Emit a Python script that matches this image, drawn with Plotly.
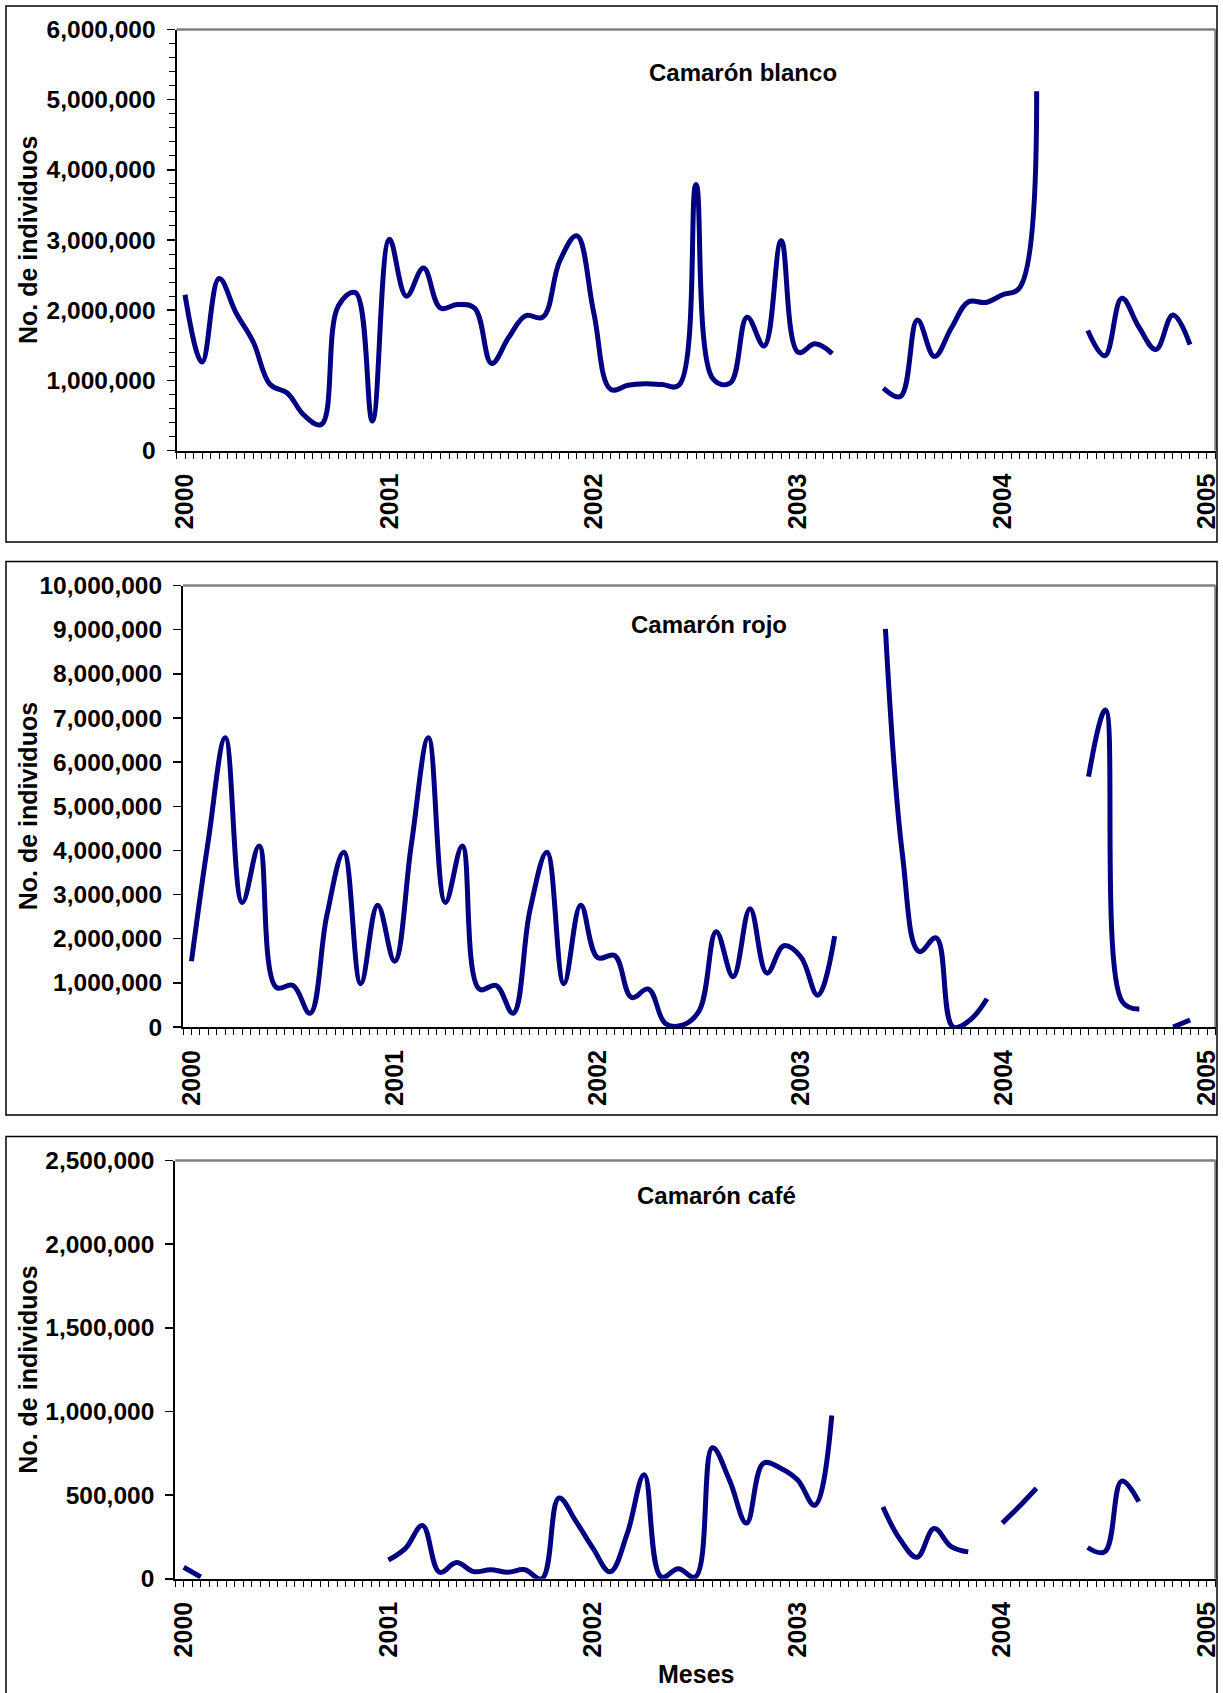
import plotly.graph_objects as go

W, H = 1223, 1693

# Month index 0 = Jan 2000 ... 59 = Dec 2004 (60 = Jan 2005)
year_ticks = [0, 12, 24, 36, 48, 60]
year_labels = ["2000", "2001", "2002", "2003", "2004", "2005"]

blanco = [2220000, 1260000, 2450000, 1960000, 1550000, 940000, 820000, 500000, 370000, 2060000, 2250000, 420000,
          3010000, 2200000, 2600000, 2030000, 2080000, 2030000, 1240000, 1610000, 1920000, 1900000, 2700000, 3060000,
          1960000, 870000, 930000, 950000, 940000, 930000, 3790000, 1020000, 960000, 1900000, 1490000, 2990000,
          1400000, 1520000, 1380000, None, None, 890000, 770000, 1860000, 1340000, 1750000, 2120000, 2110000,
          2220000, 2320000, 5120000, None, None, 1710000, 1350000, 2170000, 1760000, 1440000, 1930000, 1510000]

rojo = [1490000, 4240000, 6550000, 2820000, 4100000, 900000, 940000, 310000, 2530000, 3960000, 980000, 2760000,
        1490000, 4160000, 6550000, 2820000, 4100000, 860000, 940000, 310000, 2650000, 3960000, 980000, 2760000,
        1570000, 1620000, 670000, 860000, 80000, 40000, 370000, 2160000, 1140000, 2680000, 1220000, 1840000,
        1590000, 720000, 2060000, None, None, 9020000, 3920000, 1710000, 2020000, 0, 160000, 640000,
        None, None, None, None, None, 5670000, 7180000, 570000, 410000, None, 0, 160000]

cafe = [69000, 11000, None, None, None, None, None, None, None, None, None, None,
        112000, 182000, 318000, 39000, 97000, 43000, 54000, 39000, 54000, 0, 483000, 343000,
        182000, 42000, 268000, 622000, 11000, 60000, 11000, 783000, 590000, 333000, 691000, 661000,
        590000, 440000, 976000, None, None, 429000, 236000, 129000, 300000, 193000, 161000, None,
        333000, 433000, 541000, None, None, 187000, 161000, 584000, 461000, None, None, None]

months = list(range(60))

FONT = "Liberation Sans, Arial, sans-serif"
LINE_COLOR = "#000080"

panels = [
    dict(name="Camarón blanco", data=blanco, left=176.5, right=1215.5, top=29.5, bottom=450.5,
         ftop=6, fbot=542, ymax=6000000, dtick=1000000, minor=200000, title_xy=(743, 73)),
    dict(name="Camarón rojo", data=rojo, left=183.0, right=1215.5, top=585.5, bottom=1027,
         ftop=561.5, fbot=1115, ymax=10000000, dtick=1000000, minor=None, title_xy=(709, 624)),
    dict(name="Camarón café", data=cafe, left=175.2, right=1215.5, top=1160.5, bottom=1578.8,
         ftop=1136.5, fbot=1720, ymax=2500000, dtick=500000, minor=None, title_xy=(717, 1195)),
]

fig = go.Figure()
shapes = []
annotations = []

for i, p in enumerate(panels):
    n = i + 1
    xa = "x" if n == 1 else f"x{n}"
    ya = "y" if n == 1 else f"y{n}"
    fig.add_trace(go.Scatter(
        x=months, y=p["data"], mode="lines", xaxis=xa, yaxis=ya,
        line=dict(color=LINE_COLOR, width=5, shape="spline", smoothing=1.1),
        connectgaps=False, showlegend=False, hoverinfo="skip"))

    xdom = [p["left"] / W, p["right"] / W]
    ydom = [1 - p["bottom"] / H, 1 - p["top"] / H]
    xkey = "xaxis" if n == 1 else f"xaxis{n}"
    ykey = "yaxis" if n == 1 else f"yaxis{n}"

    xaxis = dict(
        domain=xdom, anchor=ya, range=[-0.5, 60.5], fixedrange=True,
        tickmode="array", tickvals=year_ticks, ticktext=year_labels,
        tickangle=-90, ticks="outside", ticklen=6, tickwidth=1, tickcolor="black",
        tickfont=dict(family=FONT, size=25, color="black", weight="bold"),
        ticklabelstandoff=5,
        minor=dict(tickmode="linear", tick0=-0.5, dtick=0.5, ticks="outside",
                   ticklen=6, tickwidth=1, tickcolor="black", showgrid=False),
        showline=True, linecolor="black", linewidth=2,
        showgrid=False, zeroline=False, automargin=False,
    )
    yaxis = dict(
        domain=ydom, anchor=xa, range=[0, p["ymax"]], fixedrange=True,
        tickmode="linear", tick0=0, dtick=p["dtick"], tickformat=",d",
        ticks="outside", ticklen=8, tickwidth=1.5, tickcolor="black",
        tickfont=dict(family=FONT, size=24.5, color="black", weight="bold"),
        ticklabelstandoff=6,
        showline=True, linecolor="black", linewidth=2,
        showgrid=False, zeroline=False, automargin=False,
    )
    if p["minor"]:
        yaxis["minor"] = dict(tickmode="linear", tick0=0, dtick=p["minor"], ticks="outside",
                              ticklen=6, tickwidth=1, tickcolor="black", showgrid=False)
    fig.update_layout({xkey: xaxis, ykey: yaxis})

    # gray plot-area border (top and right)
    shapes.append(dict(type="line", xref=f"{xa} domain", yref=f"{ya} domain",
                       x0=0, x1=1, y0=1, y1=1, line=dict(color="#808080", width=2.5)))
    shapes.append(dict(type="line", xref=f"{xa} domain", yref=f"{ya} domain",
                       x0=1, x1=1, y0=0, y1=1, line=dict(color="#808080", width=2.5)))
    # outer chart frame
    shapes.append(dict(type="rect", xref="paper", yref="paper",
                       x0=6 / W, x1=1217 / W, y0=1 - p["fbot"] / H, y1=1 - p["ftop"] / H,
                       line=dict(color="black", width=1.5), fillcolor="rgba(0,0,0,0)"))

    tx, ty = p["title_xy"]
    annotations.append(dict(text=p["name"], x=tx / W, y=1 - ty / H, xref="paper", yref="paper",
                            xanchor="center", yanchor="middle", showarrow=False,
                            font=dict(family=FONT, size=24, color="black", weight="bold")))
    annotations.append(dict(text="No. de individuos", x=28 / W, y=1 - ((p["top"] + p["bottom"]) / 2) / H,
                            xref="paper", yref="paper", xanchor="center", yanchor="middle",
                            textangle=-90, showarrow=False,
                            font=dict(family=FONT, size=25, color="black", weight="bold")))

annotations.append(dict(text="Meses", x=696 / W, y=1 - 1674 / H, xref="paper", yref="paper",
                        xanchor="center", yanchor="middle", showarrow=False,
                        font=dict(family=FONT, size=25, color="black", weight="bold")))

fig.update_layout(
    template="none",
    width=W, height=H, autosize=False,
    margin=dict(l=0, r=0, t=0, b=0, pad=0),
    paper_bgcolor="white", plot_bgcolor="white",
    shapes=shapes, annotations=annotations,
    showlegend=False,
)

fig.write_html("out.html", config={"displayModeBar": False, "staticPlot": True})
